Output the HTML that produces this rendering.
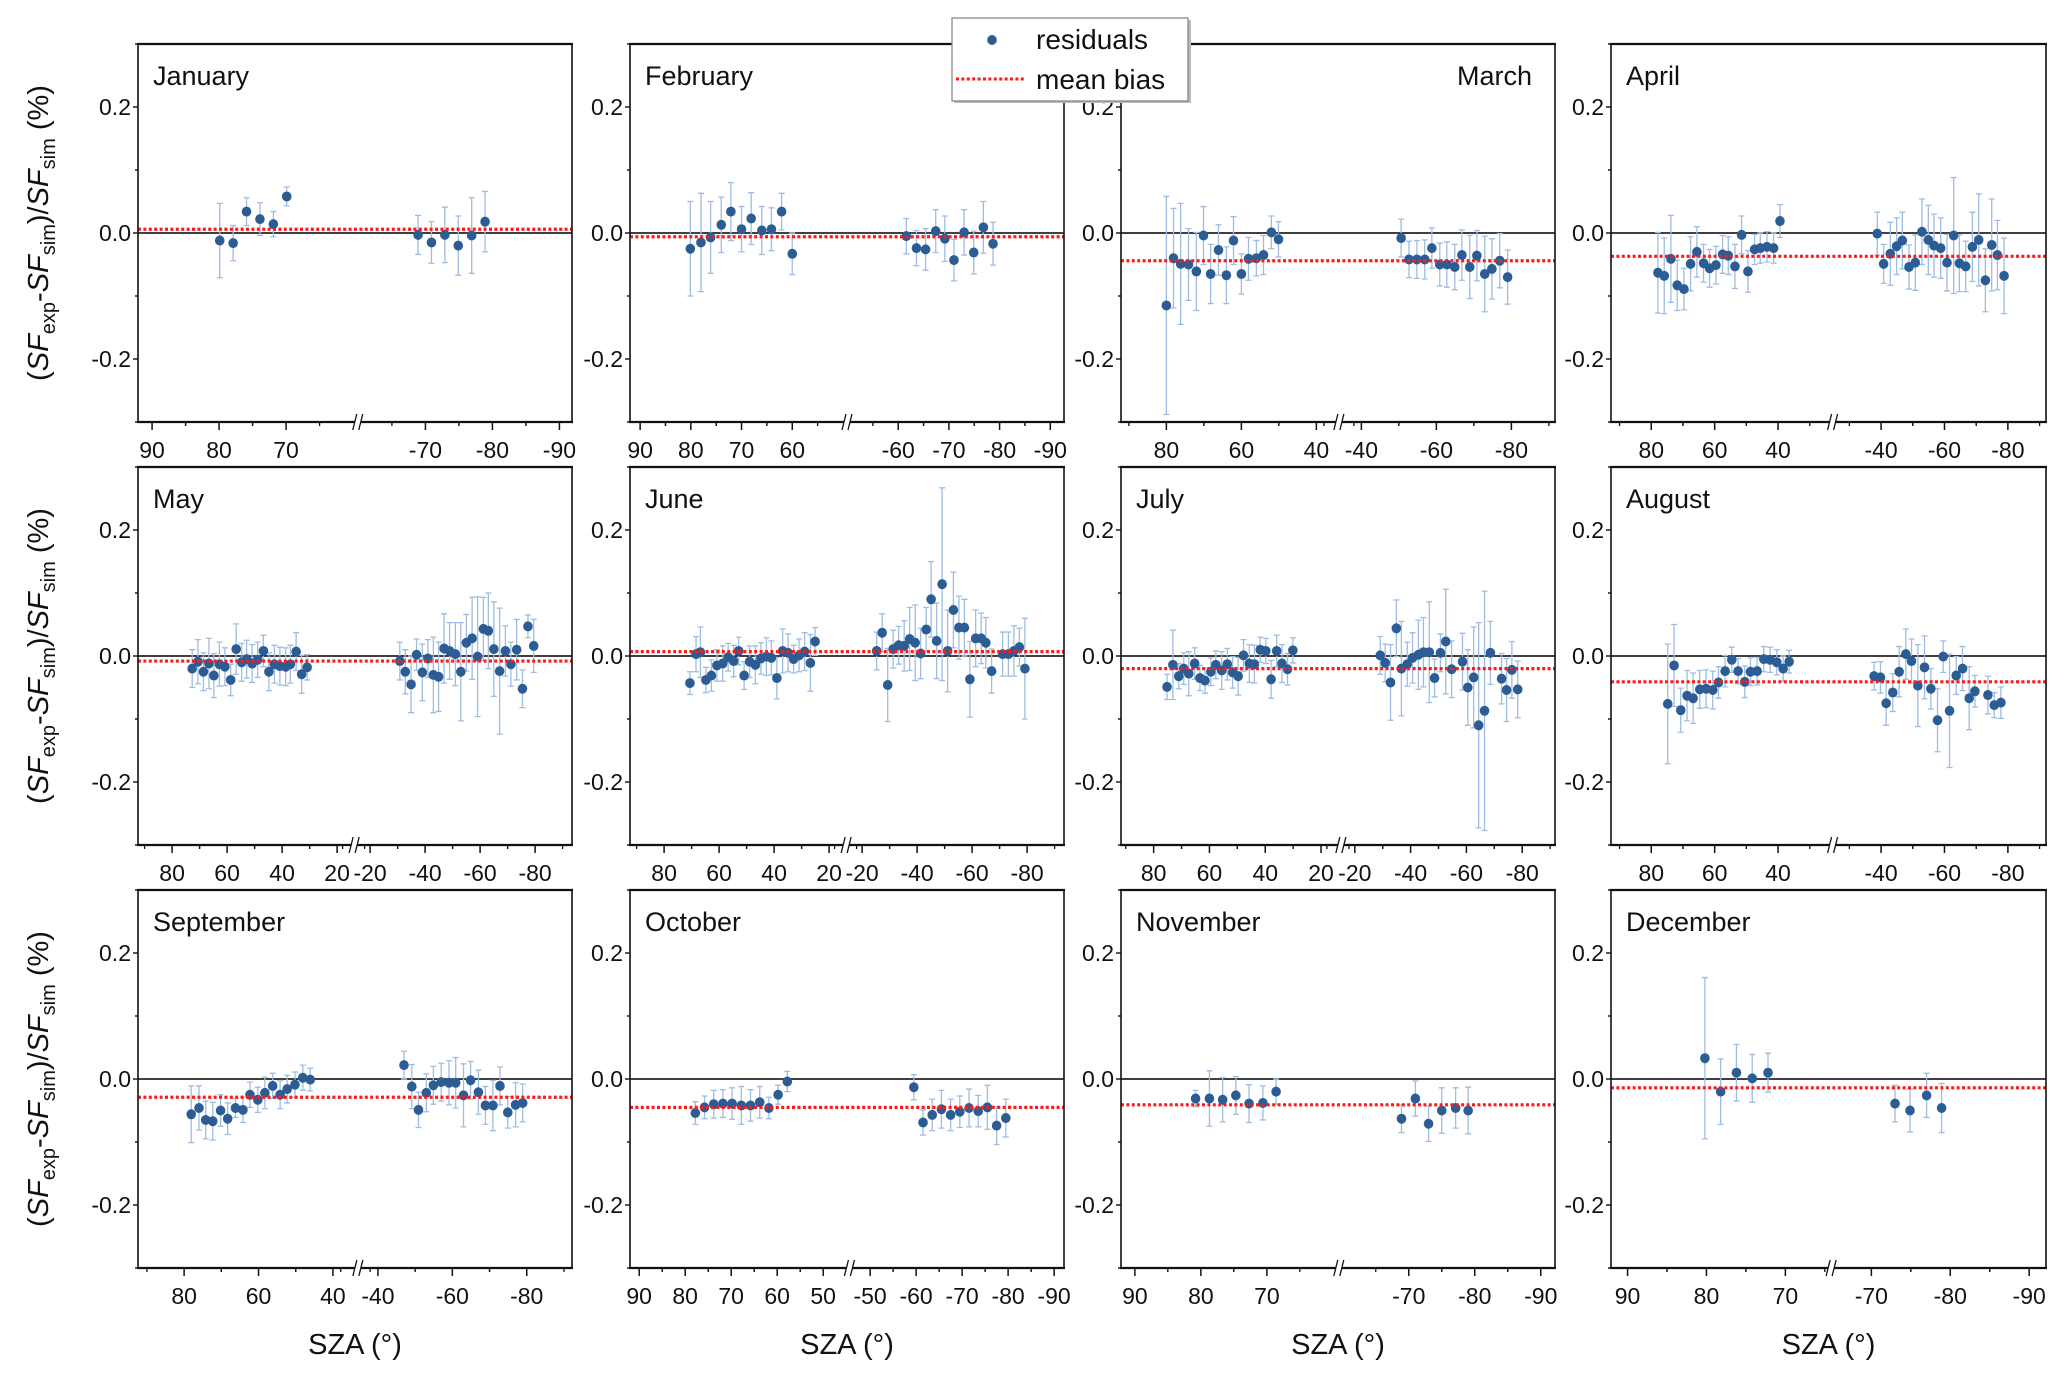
<!DOCTYPE html>
<html><head><meta charset="utf-8"><style>
html,body{margin:0;padding:0;background:#fff;}
svg{display:block;font-family:"Liberation Sans",Arial,sans-serif;}
</style></head><body>
<svg id="chart" width="2067" height="1378" viewBox="0 0 2067 1378" xmlns="http://www.w3.org/2000/svg"></svg>
<script>
const monthNames = ["January","February","March","April","May","June","July","August","September","October","November","December"];
const meanBias = [0.006,-0.006,-0.044,-0.037,-0.008,0.007,-0.020,-0.041,-0.029,-0.045,-0.041,-0.014];

const janX=[79.9,77.9,75.9,73.9,71.9,69.9,-68.9,-70.9,-72.9,-74.9,-76.9,-78.9];
const janY=[-0.012,-0.016,0.034,0.022,0.014,0.058,-0.003,-0.015,-0.003,-0.020,-0.004,0.018];
const janE=[0.059,0.028,0.022,0.026,0.020,0.015,0.031,0.033,0.044,0.047,0.060,0.048];

const febX=[80.1,78,76.1,74,72.1,70,68.1,66,64.1,62.1,60,-61.6,-63.6,-65.4,-67.4,-69.2,-71,-73,-74.9,-76.8,-78.7];
const febY=[-0.025,-0.015,-0.007,0.013,0.034,0.006,0.023,0.004,0.006,0.034,-0.033,-0.005,-0.024,-0.026,0.003,-0.009,-0.043,0.001,-0.031,0.009,-0.017];
const febE=[0.075,0.078,0.057,0.044,0.046,0.036,0.041,0.038,0.034,0.029,0.033,0.028,0.028,0.033,0.034,0.036,0.033,0.036,0.034,0.041,0.034];

const marX=[80,78.1,76.2,74.1,72,70.1,68.2,66.1,64,62.1,60,58.1,56,54.1,52,50.1,-50.6,-52.7,-54.8,-56.9,-58.8,-60.9,-62.8,-64.9,-66.8,-68.9,-70.8,-72.9,-74.8,-76.9,-79];
const marY=[-0.115,-0.040,-0.049,-0.050,-0.061,-0.004,-0.065,-0.027,-0.067,-0.012,-0.065,-0.041,-0.040,-0.035,0.001,-0.010,-0.008,-0.042,-0.042,-0.042,-0.024,-0.050,-0.050,-0.054,-0.035,-0.054,-0.036,-0.065,-0.057,-0.044,-0.070];
const marE=[0.173,0.079,0.096,0.057,0.062,0.046,0.047,0.040,0.045,0.038,0.032,0.034,0.028,0.031,0.026,0.028,0.030,0.029,0.030,0.031,0.032,0.034,0.036,0.036,0.040,0.050,0.040,0.060,0.048,0.043,0.043];

const aprX=[77.9,75.9,73.8,71.8,69.7,67.6,65.6,63.5,61.6,59.6,57.5,55.7,53.6,51.5,49.5,47.4,45.6,43.5,41.4,39.4,-38.8,-40.8,-42.9,-44.9,-46.7,-48.8,-50.8,-52.9,-54.9,-56.7,-58.8,-60.8,-62.9,-64.7,-66.7,-68.8,-70.8,-72.9,-74.9,-76.7,-78.8];
const aprY=[-0.063,-0.068,-0.041,-0.083,-0.089,-0.049,-0.030,-0.048,-0.056,-0.051,-0.034,-0.036,-0.053,-0.003,-0.061,-0.026,-0.024,-0.022,-0.024,0.019,-0.001,-0.049,-0.033,-0.021,-0.012,-0.054,-0.047,0.002,-0.011,-0.020,-0.024,-0.047,-0.004,-0.048,-0.053,-0.022,-0.011,-0.075,-0.019,-0.035,-0.068];
const aprE=[0.064,0.060,0.069,0.040,0.033,0.043,0.040,0.030,0.030,0.030,0.030,0.030,0.035,0.030,0.033,0.024,0.024,0.024,0.024,0.026,0.034,0.031,0.050,0.045,0.045,0.035,0.044,0.052,0.055,0.050,0.048,0.045,0.092,0.045,0.040,0.055,0.073,0.050,0.073,0.055,0.060];

const mayX=[72.7,70.6,68.6,66.6,64.8,62.8,60.8,58.7,56.7,54.7,52.9,50.9,48.9,46.8,44.8,42.8,40.8,38.7,37,34.9,32.9,30.9,-30.8,-32.8,-34.9,-36.9,-39,-41,-43,-44.9,-46.9,-48.9,-51,-53,-55,-57.1,-59.1,-61.2,-63,-65,-67.1,-69.2,-71.2,-73.3,-75.4,-77.4,-79.5];
const mayY=[-0.020,-0.009,-0.025,-0.012,-0.031,-0.013,-0.017,-0.038,0.011,-0.010,-0.005,-0.012,-0.006,0.008,-0.025,-0.013,-0.016,-0.017,-0.013,0.007,-0.029,-0.018,-0.008,-0.025,-0.045,0.002,-0.026,-0.004,-0.030,-0.033,0.012,0.008,0.003,-0.025,0.021,0.028,-0.001,0.043,0.040,0.011,-0.024,0.008,-0.013,0.010,-0.052,0.047,0.016];
const mayE=[0.030,0.035,0.030,0.040,0.035,0.035,0.030,0.025,0.040,0.030,0.030,0.030,0.028,0.025,0.030,0.030,0.030,0.030,0.030,0.030,0.030,0.020,0.030,0.035,0.045,0.025,0.045,0.030,0.060,0.055,0.055,0.045,0.050,0.078,0.045,0.065,0.095,0.050,0.060,0.075,0.100,0.040,0.035,0.048,0.030,0.018,0.042];

const junX=[70.6,68.4,66.8,64.8,62.8,60.8,58.7,56.7,54.7,52.9,50.9,48.9,46.8,44.8,42.8,41,39,36.9,34.9,32.9,30.9,28.9,26.8,25.1,-25.3,-27.3,-29.3,-31.3,-33.3,-35.3,-37.3,-39.3,-41.3,-43.3,-45.1,-47.1,-49.1,-51.1,-53.2,-55.2,-57.2,-59.2,-61.3,-63.3,-65,-67.1,-71.1,-73.2,-75.2,-77.2,-79.2];
const junY=[-0.043,0.003,0.006,-0.038,-0.031,-0.015,-0.012,-0.002,-0.008,0.008,-0.031,-0.009,-0.014,-0.004,-0.001,-0.003,-0.035,0.008,0.005,-0.005,0.001,0.007,-0.011,0.023,0.008,0.037,-0.046,0.011,0.017,0.016,0.027,0.021,0.004,0.042,0.090,0.024,0.114,0.008,0.073,0.045,0.045,-0.037,0.028,0.028,0.021,-0.024,0.003,0.003,0.008,0.014,-0.020];
const junE=[0.018,0.028,0.040,0.020,0.025,0.025,0.028,0.022,0.025,0.022,0.022,0.025,0.030,0.025,0.030,0.027,0.033,0.035,0.030,0.022,0.026,0.030,0.045,0.022,0.030,0.030,0.058,0.030,0.030,0.040,0.050,0.060,0.040,0.035,0.060,0.060,0.153,0.065,0.060,0.050,0.045,0.060,0.045,0.040,0.040,0.035,0.035,0.035,0.040,0.030,0.080];

const julX=[75.2,73.1,71,69.2,67.4,65.3,63.4,61.6,59.5,57.7,55.6,53.6,51.7,49.7,47.8,45.7,43.9,41.8,39.8,37.9,35.9,34,32,30.1,-29.1,-30.9,-32.8,-34.9,-36.7,-38.8,-40.7,-42.8,-44.6,-46.7,-48.6,-50.7,-52.6,-54.7,-58.6,-60.5,-62.6,-64.4,-66.5,-68.6,-72.6,-74.4,-76.3,-78.4];
const julY=[-0.049,-0.014,-0.032,-0.020,-0.028,-0.012,-0.035,-0.039,-0.025,-0.014,-0.023,-0.013,-0.026,-0.032,0.001,-0.012,-0.013,0.010,0.008,-0.037,0.008,-0.012,-0.021,0.009,0.001,-0.011,-0.042,0.044,-0.020,-0.013,-0.003,0.002,0.006,0.006,-0.035,0.005,0.023,-0.021,-0.009,-0.050,-0.034,-0.110,-0.087,0.005,-0.036,-0.054,-0.022,-0.053];
const julE=[0.020,0.055,0.020,0.025,0.035,0.025,0.020,0.020,0.022,0.022,0.030,0.025,0.025,0.030,0.025,0.030,0.030,0.020,0.020,0.030,0.025,0.030,0.025,0.020,0.030,0.030,0.060,0.045,0.075,0.035,0.040,0.055,0.055,0.080,0.030,0.030,0.083,0.045,0.045,0.060,0.080,0.163,0.190,0.050,0.040,0.050,0.045,0.045];

const augX=[74.8,72.8,70.7,68.7,66.8,64.7,62.7,60.6,58.8,56.7,54.6,52.6,50.5,48.7,46.6,44.5,42.5,40.4,38.4,36.5,-37.8,-39.8,-41.6,-43.7,-45.7,-47.8,-49.6,-51.6,-53.7,-55.7,-57.8,-59.6,-61.6,-63.7,-65.7,-67.8,-69.6,-73.7,-75.7,-77.8];
const augY=[-0.076,-0.015,-0.086,-0.063,-0.067,-0.053,-0.052,-0.054,-0.042,-0.024,-0.006,-0.024,-0.041,-0.025,-0.024,-0.005,-0.006,-0.010,-0.020,-0.009,-0.032,-0.034,-0.075,-0.058,-0.025,0.003,-0.008,-0.047,-0.018,-0.052,-0.102,-0.001,-0.087,-0.031,-0.020,-0.067,-0.056,-0.062,-0.078,-0.074];
const augE=[0.095,0.065,0.035,0.040,0.040,0.030,0.030,0.030,0.025,0.025,0.020,0.020,0.025,0.022,0.022,0.020,0.020,0.020,0.020,0.018,0.022,0.025,0.035,0.030,0.040,0.040,0.035,0.065,0.050,0.032,0.050,0.025,0.090,0.030,0.035,0.050,0.025,0.030,0.020,0.025];

const sepX=[78.1,76,74.2,72.3,70.2,68.3,66.2,64.2,62.3,60.2,58.3,56.2,54.2,52.3,50.2,48.1,46.1,-47,-49.1,-50.9,-53,-54.9,-57,-59.1,-60.9,-63,-64.9,-67,-68.9,-70.9,-72.8,-74.9,-77,-78.9];
const sepY=[-0.056,-0.046,-0.065,-0.067,-0.050,-0.063,-0.046,-0.049,-0.025,-0.033,-0.022,-0.011,-0.025,-0.016,-0.009,0.002,-0.001,0.022,-0.012,-0.049,-0.022,-0.010,-0.005,-0.006,-0.006,-0.026,-0.002,-0.021,-0.042,-0.042,-0.011,-0.053,-0.041,-0.038];
const sepE=[0.045,0.035,0.030,0.030,0.025,0.025,0.015,0.020,0.020,0.020,0.025,0.020,0.022,0.022,0.020,0.020,0.018,0.022,0.035,0.028,0.030,0.030,0.030,0.035,0.040,0.050,0.030,0.035,0.030,0.040,0.030,0.025,0.035,0.030];

const octX=[77.8,75.8,73.8,71.8,69.8,67.8,65.8,63.8,61.8,59.8,57.8,-59.5,-61.5,-63.5,-65.5,-67.5,-69.5,-71.5,-73.5,-75.5,-77.5,-79.5];
const octY=[-0.054,-0.045,-0.040,-0.039,-0.039,-0.042,-0.042,-0.037,-0.046,-0.025,-0.004,-0.013,-0.069,-0.057,-0.048,-0.057,-0.052,-0.046,-0.051,-0.045,-0.074,-0.062];
const octE=[0.018,0.018,0.022,0.022,0.025,0.030,0.025,0.025,0.017,0.015,0.016,0.020,0.020,0.025,0.030,0.025,0.025,0.030,0.025,0.035,0.030,0.030];

const novX=[80.8,78.7,76.7,74.7,72.7,70.6,68.6,-68.9,-71,-73,-75,-77.1,-79];
const novY=[-0.031,-0.031,-0.033,-0.026,-0.039,-0.038,-0.020,-0.063,-0.031,-0.071,-0.050,-0.046,-0.050];
const novE=[0.013,0.044,0.035,0.030,0.030,0.027,0.020,0.022,0.028,0.028,0.036,0.032,0.037];

const decX=[80.2,78.2,76.2,74.2,72.2,-73,-74.9,-77,-78.9];
const decY=[0.033,-0.020,0.010,0.001,0.010,-0.039,-0.050,-0.026,-0.046];
const decE=[0.128,0.052,0.045,0.038,0.031,0.029,0.034,0.035,0.039];

const tJan=[90,80,70,-70,-80,-90];
const tFeb=[90,80,70,60,-60,-70,-80,-90];
const tMar=[80,60,40,-40,-60,-80];
const tMay=[80,60,40,20,-20,-40,-60,-80];
const tOct=[90,80,70,60,50,-50,-60,-70,-80,-90];
const yTicks=[-0.2,0,0.2];
const yTickLabels=["-0.2","0.0","0.2"];

const seriesX=[janX,febX,marX,aprX,mayX,junX,julX,augX,sepX,octX,novX,decX];
const seriesY=[janY,febY,marY,aprY,mayY,junY,julY,augY,sepY,octY,novY,decY];
const seriesE=[janE,febE,marE,aprE,mayE,junE,julE,augE,sepE,octE,novE,decE];
const panelTicks=[tJan,tFeb,tMar,tMar,tMay,tMay,tMay,tMar,tMar,tOct,tJan,tJan];
// axis layout (not data)
const axisL0=[92.1,92,92.1,92.7,92.4,92.4,91.7,92.7,92.4,92,92.1,92.1];
const axisK=[6.7,5.07,3.75,3.17,2.75,2.75,2.79,3.17,3.72,4.6,6.6,7.89];
const axisB1=[59.3,49.2,34,22.8,13.8,13.8,12.9,22.8,33.3,44.3,59.1,64.2];
const axisB2=[-59.9,-49.9,-34,-24.7,-14.2,-14.2,-15,-24.7,-34.6,-45.5,-59.4,-64.9];
const colLeft=[138,630,1121,1611];
const colWidth=[434,434,434,435];
const rowTop=[44,467,890];
const PH=378;

const NS="http://www.w3.org/2000/svg";
const svg=document.getElementById('chart');
function mk(tag,attrs,parent){const e=document.createElementNS(NS,tag);for(const k in attrs)e.setAttribute(k,attrs[k]);(parent||svg).appendChild(e);return e;}

for(let i=0;i<12;i++){
  const col=i%4,row=Math.floor(i/4);
  const left=colLeft[col],W=colWidth[col],top=rowTop[row],right=left+W,bottom=top+PH;
  const L0=axisL0[i],k=axisK[i],B1=axisB1[i],B2=axisB2[i];
  const breakX=left+(L0-B1)*k;
  const xs=v=> v>=0 ? left+(L0-v)*k : breakX+(B2-v)*k;
  const ys=v=> top+PH/2-v*(PH/0.6);
  const g=mk('g',{});
  
  
  const zl=mk('line',{x1:left,x2:right,y1:ys(0),y2:ys(0),stroke:'#000','stroke-width':1.6},g);
  
  
  const X=seriesX[i],Y=seriesY[i],E=seriesE[i];
  for(let j=0;j<X.length;j++){
    const cx=xs(X[j]),y1=ys(Y[j]+E[j]),y2=ys(Y[j]-E[j]);
    const eb=mk('path',{d:`M${cx},${y1}V${y2}M${cx-3},${y1}H${cx+3}M${cx-3},${y2}H${cx+3}`,stroke:'#9fbde0','stroke-width':1.3,fill:'none'},g);
    
    
  }
  for(let j=0;j<X.length;j++){
    const p=mk('ellipse',{cx:xs(X[j]),cy:ys(Y[j]),rx:4.8,ry:5,fill:'#2b5d94'},g);
    
    
  }
  const mb=mk('line',{x1:left,x2:right,y1:ys(meanBias[i]),y2:ys(meanBias[i]),stroke:'#ff1a1a','stroke-width':3.2,'stroke-dasharray':'3,2.4'},g);
  
  
  const fr=mk('rect',{x:left,y:top,width:W,height:PH,fill:'none',stroke:'#111','stroke-width':1.6},g);
  
  
  mk('line',{x1:left-1,x2:right+1,y1:top,y2:top,stroke:'#111','stroke-width':2.2},g);
  mk('line',{x1:left-1,x2:right+1,y1:bottom,y2:bottom,stroke:'#111','stroke-width':2.2},g);
  for(let t=-0.3;t<=0.301;t+=0.1){
    const yy=ys(t),major=Math.abs(Math.round(t*10))%2===0;
    mk('line',{x1:left-(major?5:3),x2:left,y1:yy,y2:yy,stroke:'#111','stroke-width':1.4},g);
  }
  yTicks.forEach((t,ti)=>{
    const tl=mk('text',{x:left-7,y:ys(t)+8,'font-size':23,'text-anchor':'end',fill:'#111'},g);
    tl.textContent=yTickLabels[ti];
    
    
  });
  const ticks=panelTicks[i];
  const step=Math.abs(ticks[0]-ticks[1]);
  const minors=[];
  ticks.forEach(v=>{[v-step/2,v+step/2].forEach(m=>{if(m!==0&&Math.sign(m)===Math.sign(v))minors.push(m);});});
  minors.forEach(m=>{const x=xs(m);if(x>left+1&&x<right-1&&Math.abs(x-breakX)>6)mk('line',{x1:x,x2:x,y1:bottom,y2:bottom+4,stroke:'#111','stroke-width':1.3},g);});
  ticks.forEach(v=>{
    const x=xs(v);
    mk('line',{x1:x,x2:x,y1:bottom,y2:bottom+8,stroke:'#111','stroke-width':1.5},g);
    const tl=mk('text',{x:x,y:bottom+36,'font-size':23,'text-anchor':'middle',fill:'#111'},g);
    tl.textContent=String(v);
    
    
  });
  mk('rect',{x:breakX-3,y:bottom-3,width:6,height:6,fill:'#fff'},g);
  const bm=mk('path',{d:`M${breakX-5},${bottom+8}L${breakX-1},${bottom-8}M${breakX+1},${bottom+8}L${breakX+5},${bottom-8}`,stroke:'#111','stroke-width':1.3,fill:'none'},g);
  
  
  const isMar=i===2;
  const tt=mk('text',{x:isMar?right-23:left+15,y:top+41,'font-size':27,'text-anchor':isMar?'end':'start',fill:'#111'},g);
  tt.textContent=monthNames[i];
  
  
  if(col===0){
    const yt=mk('text',{transform:`translate(48,${top+PH/2}) rotate(-90)`,'font-size':29,'text-anchor':'middle',fill:'#111'});
    
    
    yt.innerHTML='(<tspan font-style="italic">SF</tspan><tspan font-size="20" dy="7">exp</tspan><tspan dy="-7">-</tspan><tspan font-style="italic">SF</tspan><tspan font-size="20" dy="7">sim</tspan><tspan dy="-7">)/</tspan><tspan font-style="italic">SF</tspan><tspan font-size="20" dy="7">sim</tspan><tspan dy="-7"> (%)</tspan>';
  }
  if(row===2){
    const xt=mk('text',{x:left+W/2,y:1354,'font-size':29,'text-anchor':'middle',fill:'#111'});
    xt.textContent='SZA (°)';
    
    
  }
}
const lg=mk('g',{});


mk('rect',{x:954,y:20,width:237,height:83,fill:'#bbb'},lg);
mk('rect',{x:952,y:18,width:236,height:83,fill:'#fff',stroke:'#888','stroke-width':1.3},lg);
const le1=mk('ellipse',{cx:992,cy:40,rx:4.8,ry:5,fill:'#2b5d94'},lg);


const lt1=mk('text',{x:1036,y:49,'font-size':28,fill:'#111'},lg);
lt1.textContent='residuals';
const le2=mk('line',{x1:956,x2:1026,y1:79,y2:79,stroke:'#ff1a1a','stroke-width':3,'stroke-dasharray':'3,2.4'},lg);


const lt2=mk('text',{x:1036,y:89,'font-size':28,fill:'#111'},lg);
lt2.textContent='mean bias';
</script>
</body></html>
